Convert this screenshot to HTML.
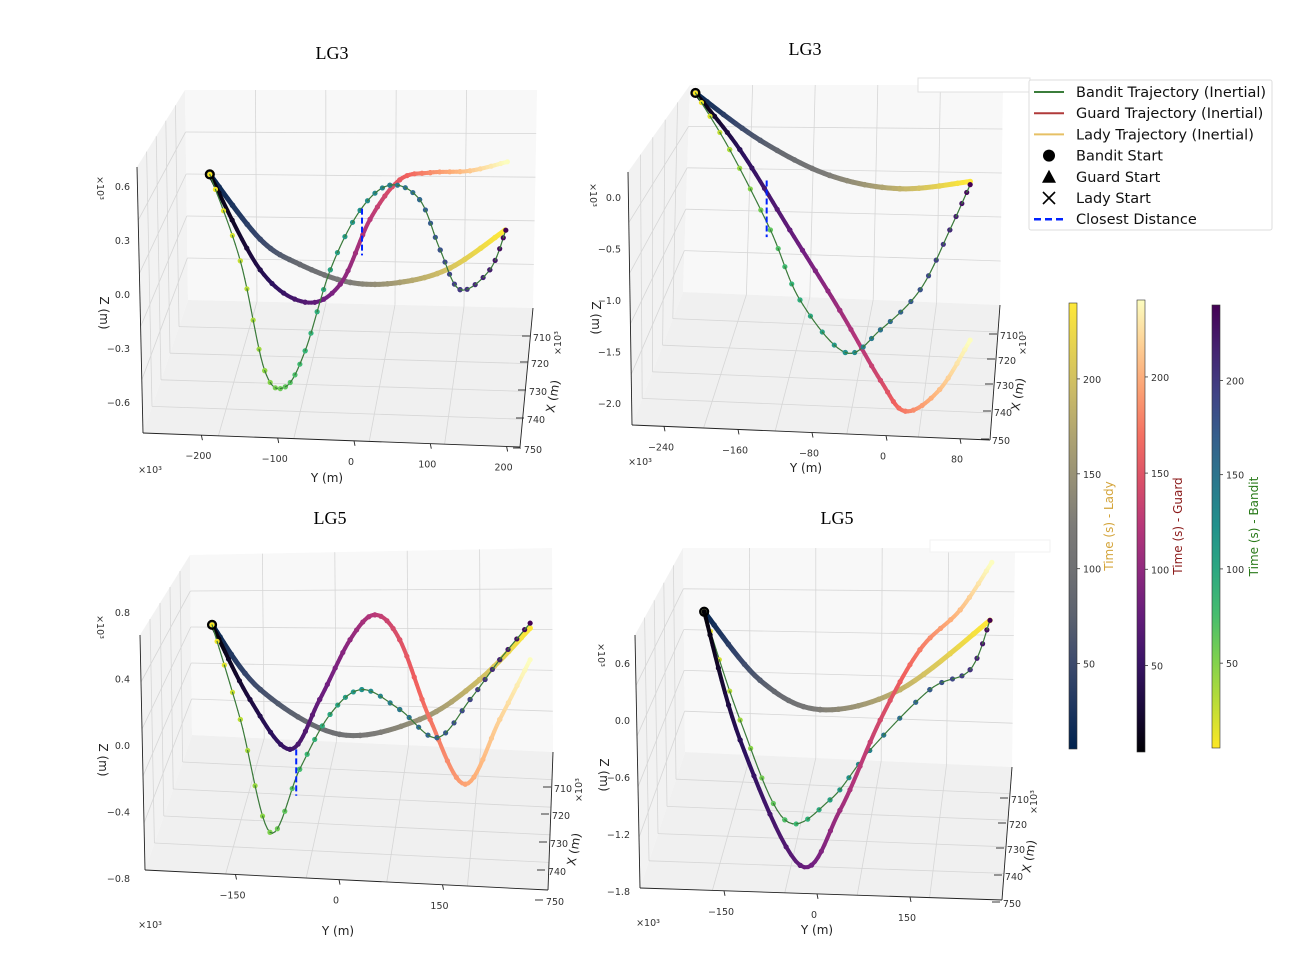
<!DOCTYPE html>
<html><head><meta charset="utf-8">
<style>
body{margin:0;background:#fff;}
svg{display:block;font-family:"DejaVu Sans","Liberation Sans",sans-serif;}
.t{font-size:9.5px;fill:#333;}
.ttl{font-family:"Liberation Serif",serif;font-size:18px;fill:#000;}
.lab{font-size:12px;fill:#222;}
.lg{font-size:14.5px;fill:#111;}
</style></head>
<body>
<svg id="chart" width="1310" height="962" viewBox="0 0 1310 962"></svg>
<script>
// ---------- DATA ----------
var timeBarTicks=[50,100,150,200];
var p1LadyT=[5,44,83,122,162,201,240];
var p1LadyY=[-189,-123,-71,-5,60,126,198];
var p1LadyZ=[0.67,0.31,0.17,0.07,0.07,0.15,0.36];
var p1BanditT=[5,25,44,64,83,103,122,142,162,181,201,220,240];
var p1BanditY=[-189,-149,-117,-90,-64,-31,8,47,86,113,139,178,199];
var p1BanditZ=[0.67,0.19,-0.42,-0.51,-0.31,0.14,0.47,0.61,0.53,0.25,0.03,0.14,0.36];
var p1GuardT=[5,34,64,93,122,152,181,211,240];
var p1GuardY=[-189,-123,-64,-18,21,60,100,152,201];
var p1GuardZ=[0.67,0.14,-0.04,0.06,0.42,0.64,0.68,0.69,0.74];
var p1Closest=[10.5,0.48,0.22];

var p2LadyT=[5,64,122,181,240];
var p2LadyY=[-206,-136,-61,15,91];
var p2LadyZ=[1.02,0.56,0.22,0.09,0.16];
var p2BanditT=[5,34,64,93,122,152,181,211,240];
var p2BanditY=[-206,-169,-125,-93,-44,-6,37,69,91];
var p2BanditZ=[1.02,0.47,-0.31,-0.99,-1.50,-1.28,-0.89,-0.31,0.13];
var p2GuardT=[5,39,72,106,139,173,206,240];
var p2GuardY=[-206,-158,-104,-50,-6,21,58,91];
var p2GuardZ=[1.02,0.47,-0.31,-1.09,-1.77,-2.07,-1.86,-1.38];
var p2Closest=[-129,0.17,-0.38];

var p3LadyT=[5,52,99,146,193,240];
var p3LadyY=[-184,-114,1,117,204,277];
var p3LadyZ=[0.73,0.34,0.07,0.16,0.40,0.71];
var p3BanditT=[5,29,52,76,99,122,146,170,193,217,240];
var p3BanditY=[-184,-143,-100,-57,-13,33,88,142,190,233,277];
var p3BanditZ=[0.73,0.16,-0.52,-0.14,0.19,0.34,0.22,0.05,0.28,0.52,0.74];
var p3GuardT=[5,29,52,76,99,122,146,170,193,217,240];
var p3GuardY=[-184,-129,-71,-28,16,52,88,132,183,233,277];
var p3GuardZ=[0.73,0.28,-0.02,0.28,0.64,0.79,0.64,0.16,-0.23,0.16,0.52];
var p3Closest=[-62,-0.02,-0.30];

var p4LadyT=[5,64,122,181,240];
var p4LadyY=[-182,-92,5,134,279];
var p4LadyZ=[1.15,0.43,0.12,0.33,1.06];
var p4BanditT=[5,39,72,106,139,173,206,240];
var p4BanditY=[-182,-124,-52,21,85,182,247,279];
var p4BanditZ=[1.15,0.01,-1.04,-0.83,-0.31,0.33,0.54,1.06];
var p4GuardT=[5,39,72,106,139,173,206,240];
var p4GuardY=[-182,-124,-27,37,102,166,231,282];
var p4GuardZ=[1.15,-0.2,-1.52,-0.94,0.01,0.75,1.17,1.67];

var p1YTicks=[-200,-100,0,100,200], p1ZTicks=[0.6,0.3,0.0,-0.3,-0.6];
var p2YTicks=[-240,-160,-80,0,80], p2ZTicks=[0.0,-0.5,-1.0,-1.5,-2.0];
var p3YTicks=[-150,0,150], p3ZTicks=[0.8,0.4,0.0,-0.4,-0.8];
var p4YTicks=[-150,0,150], p4ZTicks=[0.6,0.0,-0.6,-1.2,-1.8];
var xTickLabels=[710,720,730,740,750];

// ---------- RENDER ----------
var NS="http://www.w3.org/2000/svg";
var svg=document.getElementById('chart');
function mk(tag,attrs,parent){var e=document.createElementNS(NS,tag);for(var k in attrs)e.setAttribute(k,attrs[k]);(parent||svg).appendChild(e);return e;}
function txt(x,y,s,cls,anchor,rot,parent,fill){var e=mk('text',{x:x,y:y,'class':cls,'text-anchor':anchor||'middle'},parent);if(rot)e.setAttribute('transform','rotate('+rot+' '+x+' '+y+')');if(fill)e.setAttribute('fill',fill);e.textContent=s;return e;}
function hex(h){return [parseInt(h.substr(1,2),16),parseInt(h.substr(3,2),16),parseInt(h.substr(5,2),16)];}
var cmaps={
 lady:['#00224e','#35456c','#666970','#7c7b78','#a59c74','#d3c164','#fee838'],
 guard:['#000004','#2c115f','#721f81','#b73779','#f1605d','#feb078','#fcfdbf'],
 bandit:['#fde725','#90d743','#35b779','#21918c','#31688e','#443983','#440154']};
function cmap(name,f){var s=cmaps[name];f=Math.max(0,Math.min(1,f));var p=f*(s.length-1),i=Math.min(Math.floor(p),s.length-2),t=p-i;var a=hex(s[i]),b=hex(s[i+1]);return 'rgb('+[0,1,2].map(function(k){return Math.round(a[k]+(b[k]-a[k])*t);}).join(',')+')';}
var T0=5,T1=240;

var panels=[
 {title:'LG3',tx:332,ty:59,x0:354,kx:0.763,y0:295,kz:180,yt:p1YTicks,zt:p1ZTicks,zlx:130,
  box:{bTL:[185,90],bTR:[537,90],bBR:[533,308],bBL:[188,300],lT:[137,167],fBL:[143,433],fBR:[520,447]},
  xt:[[542,341],[540,367],[538,395],[536,423],[533,453]],x10:[561,343],xl:[557,397],yl:[327,482],y10:[150,473],zl:[100,313],z10:[97,188],
  series:[['lady',p1LadyT,p1LadyY,p1LadyZ],['guard',p1GuardT,p1GuardY,p1GuardZ],['bandit',p1BanditT,p1BanditY,p1BanditZ]],closest:p1Closest},
 {title:'LG3',tx:805,ty:55,x0:886,kx:0.925,y0:198,kz:103,yt:p2YTicks,zt:p2ZTicks,zlx:621,
  box:{bTL:[690,85],bTR:[1003,85],bBR:[1000,305],bBL:[683,292],lT:[628,172],fBL:[632,425],fBR:[990,440]},
  xt:[[1009,339],[1007,364],[1005,389],[1003,416],[1001,444]],x10:[1026,343],xl:[1022,395],yl:[806,472],y10:[640,465],zl:[592,318],z10:[590,195],
  series:[['lady',p2LadyT,p2LadyY,p2LadyZ],['guard',p2GuardT,p2GuardY,p2GuardZ],['bandit',p2BanditT,p2BanditY,p2BanditZ]],closest:p2Closest},
 {title:'LG5',tx:330,ty:524,x0:339,kx:0.69,y0:746,kz:166,yt:p3YTicks,zt:p3ZTicks,zlx:130,
  box:{bTL:[190,555],bTR:[552,548],bBR:[553,752],bBL:[192,735],lT:[140,635],fBL:[145,870],fBR:[548,890]},
  xt:[[563,792],[561,819],[559,847],[557,875],[555,905]],x10:[582,790],xl:[578,850],yl:[338,935],y10:[150,928],zl:[99,760],z10:[97,627],
  series:[['lady',p3LadyT,p3LadyY,p3LadyZ],['guard',p3GuardT,p3GuardY,p3GuardZ],['bandit',p3BanditT,p3BanditY,p3BanditZ]],closest:p3Closest},
 {title:'LG5',tx:837,ty:524,x0:817,kx:0.62,y0:721,kz:95,yt:p4YTicks,zt:p4ZTicks,zlx:630,
  box:{bTL:[683,548],bTR:[1015,548],bBR:[1012,767],bBL:[685,752],lT:[635,635],fBL:[640,888],fBR:[1002,900]},
  xt:[[1020,803],[1018,828],[1016,853],[1014,880],[1012,907]],x10:[1037,802],xl:[1033,857],yl:[817,934],y10:[648,926],zl:[600,775],z10:[598,655],
  series:[['lady',p4LadyT,p4LadyY,p4LadyZ],['bandit',p4BanditT,p4BanditY,p4BanditZ],['guard',p4GuardT,p4GuardY,p4GuardZ]],closest:null}
];

function lerp(a,b,t){return [a[0]+(b[0]-a[0])*t,a[1]+(b[1]-a[1])*t];}
function poly(pts){return pts.map(function(p){return p.join(',');}).join(' ');}
function line(g,a,b,st,w){mk('line',{x1:a[0],y1:a[1],x2:b[0],y2:b[1],stroke:st,'stroke-width':w||0.8},g);}

panels.forEach(function(P,pi){
  var g=mk('g',{});
  
  
  var B=P.box;
  var left=mk('polygon',{points:poly([B.lT,B.bTL,B.bBL,B.fBL]),fill:'#f2f2f2'},g);
  
  
  var back=mk('polygon',{points:poly([B.bTL,B.bTR,B.bBR,B.bBL]),fill:'#f8f8f8'},g);
  
  
  var floor=mk('polygon',{points:poly([B.bBL,B.bBR,B.fBR,B.fBL]),fill:'#f0f0f0'},g);
  
  
  var gc='#d6d6d6';
  for(var i=1;i<=4;i++){var t=i/5;
    line(g,lerp(B.bTL,B.bTR,t),lerp(B.bBL,B.bBR,t),gc);
    line(g,lerp(B.bBL,B.bBR,t),lerp(B.fBL,B.fBR,t),gc);
    line(g,lerp(B.bTL,B.bBL,t),lerp(B.bTR,B.bBR,t),gc);
    line(g,lerp(B.lT,B.fBL,t),lerp(B.bTL,B.bBL,t),gc);
    line(g,lerp(B.bBL,B.fBL,t),lerp(B.bBR,B.fBR,t),gc);
    line(g,lerp(B.lT,B.bTL,t),lerp(B.fBL,B.bBL,t),gc);
  }
  line(g,B.lT,B.fBL,'#222',0.9);
  line(g,B.fBL,B.fBR,'#222',0.9);
  line(g,B.fBR,B.bBR,'#222',0.9);
  var tt=txt(P.tx,P.ty,P.title,'ttl','middle',0,g);
  
  
  function X(Y){return P.x0+P.kx*Y;}
  function Zs(Z){return P.y0-P.kz*Z;}
  function edgeY(x){var t=(x-B.fBL[0])/(B.fBR[0]-B.fBL[0]);return B.fBL[1]+(B.fBR[1]-B.fBL[1])*t;}
  P.yt.forEach(function(v){var x=X(v),ey=edgeY(x);
    line(g,[x,ey],[x+1,ey+5],'#222',0.9);
    var e=txt(x-3,ey+24,String(v).replace('-','\u2212'),'t','middle',0,g);
    
    });
  P.zt.forEach(function(v){var y=Zs(v);
    var e=txt(P.zlx,y+3,v.toFixed(1).replace('-','\u2212'),'t','end',0,g);
    
    });
  P.xt.forEach(function(p,i){line(g,[p[0]-20,p[1]-5],[p[0]-12,p[1]-5],'#222',0.9);
    var e=txt(p[0],p[1],String(xTickLabels[i]),'t','middle',0,g);
    
    });
  var a=txt(P.yl[0],P.yl[1],'Y  (m)','lab','middle',0,g);
  
  
  var b=txt(P.xl[0],P.xl[1],'X  (m)','lab','middle',-80,g);
  
  
  var c=txt(P.zl[0],P.zl[1],'Z  (m)','lab','middle',90,g);
  
  
  var d=txt(P.y10[0],P.y10[1],'\u00d710\u00b3','t','middle',0,g);
  
  
  var e2=txt(P.x10[0],P.x10[1],'\u00d710\u00b3','t','middle',-90,g);
  
  
  var f=txt(P.z10[0],P.z10[1],'\u00d710\u00b3','t','middle',90,g);
  
  
  P.series.forEach(function(S){
    var name=S[0],T=S[1],Ys=S[2],Zz=S[3];
    var pts=Ys.map(function(v,i){return [X(v),Zs(Zz[i]),T[i]];});
    var sg=mk('g',{},g);
    
    
    var lw=name==='lady'?5:(name==='guard'?4:1.2);
    for(var i=0;i<pts.length-1;i++){
      var p0=pts[Math.max(0,i-1)],p1=pts[i],p2=pts[i+1],p3=pts[Math.min(pts.length-1,i+2)];
      var N=12,prev=null;
      for(var k=0;k<=N;k++){var t=k/N,t2=t*t,t3=t2*t;
        var c=[0,1,2].map(function(j){return 0.5*((2*p1[j])+(-p0[j]+p2[j])*t+(2*p0[j]-5*p1[j]+4*p2[j]-p3[j])*t2+(-p0[j]+3*p1[j]-3*p2[j]+p3[j])*t3);});
        var col=cmap(name,(c[2]-T0)/(T1-T0));
        if(prev){mk('line',{x1:prev[0],y1:prev[1],x2:c[0],y2:c[1],stroke:name==='bandit'?'#3a7a3a':col,'stroke-width':lw,'stroke-linecap':'round'},sg);}
        if(k%3===0){mk('circle',{cx:c[0],cy:c[1],r:name==='lady'?2.8:2.6,fill:col},sg);}
        prev=c;}
    }
  });
  var s0=mk('circle',{cx:X(P.series[0][2][0]),cy:Zs(P.series[0][3][0]),r:4,fill:'none',stroke:'#000','stroke-width':2.2},g);
  
  
  if(P.closest){var cl=P.closest;
    var dl=mk('line',{x1:X(cl[0]),y1:Zs(cl[1]),x2:X(cl[0]),y2:Zs(cl[2]),stroke:'#0022ff','stroke-width':2,'stroke-dasharray':'6,3'},g);
    
    }
});

var hb=mk('rect',{x:918,y:78,width:112,height:14,fill:'#fff',stroke:'#e0e0e0'});


var hb2=mk('rect',{x:930,y:540,width:120,height:12,fill:'#fff',stroke:'#f2f2f2'});



var lg=mk('g',{});


mk('rect',{x:1029,y:80,width:243,height:150,fill:'#fff',stroke:'#ddd',rx:2},lg);
var items=[['line','#3b7d3b','Bandit Trajectory (Inertial)'],['line','#b03a3a','Guard Trajectory (Inertial)'],['line','#e6c065','Lady Trajectory (Inertial)'],['dot','','Bandit Start'],['tri','','Guard Start'],['x','','Lady Start'],['dash','#0022ff','Closest Distance']];
items.forEach(function(it,i){var y=92+i*21.2;
  var ig=mk('g',{},lg);
  
  
  if(it[0]==='line')mk('line',{x1:1034,y1:y,x2:1064,y2:y,stroke:it[1],'stroke-width':2},ig);
  if(it[0]==='dash')mk('line',{x1:1034,y1:y,x2:1064,y2:y,stroke:it[1],'stroke-width':2.5,'stroke-dasharray':'7,4'},ig);
  if(it[0]==='dot')mk('circle',{cx:1049,cy:y,r:6,fill:'#000'},ig);
  if(it[0]==='tri')mk('polygon',{points:'1049,'+(y-7)+' 1042,'+(y+6)+' 1056,'+(y+6),fill:'#000'},ig);
  if(it[0]==='x'){mk('line',{x1:1043,y1:y-6,x2:1055,y2:y+6,stroke:'#000','stroke-width':1.6},ig);mk('line',{x1:1043,y1:y+6,x2:1055,y2:y-6,stroke:'#000','stroke-width':1.6},ig);}
  txt(1076,y+5,it[2],'lg','start',0,ig);
});

var defs=mk('defs',{});
var bars=[['lady',1069,303,749,'Time (s) - Lady','#d4a43a',1113],['guard',1137,300,752,'Time (s) - Guard','#8b1a1a',1182],['bandit',1212,305,748,'Time (s) - Bandit','#2a7a1a',1258]];
bars.forEach(function(b){
  var gr=mk('linearGradient',{id:'g'+b[0],x1:0,y1:1,x2:0,y2:0},defs);
  for(var i=0;i<=10;i++)mk('stop',{offset:i/10,'stop-color':cmap(b[0],i/10)},gr);
  var cg=mk('g',{});
  
  
  mk('rect',{x:b[1],y:b[2],width:8,height:b[3]-b[2],fill:'url(#g'+b[0]+')',stroke:'#333','stroke-width':0.6},cg);
  function ty(v){return b[3]-(v-T0)/(T1-T0)*(b[3]-b[2]);}
  timeBarTicks.forEach(function(v){var y=ty(v);line(cg,[b[1]+8,y],[b[1]+11,y],'#333',0.8);txt(b[1]+14,y+4,String(v),'t','start',0,cg);});
  var l=txt(b[6],(b[2]+b[3])/2,b[4],'lab','middle',-90,cg,b[5]);
  l.setAttribute('style','fill:'+b[5]);
});
</script>
</body></html>
